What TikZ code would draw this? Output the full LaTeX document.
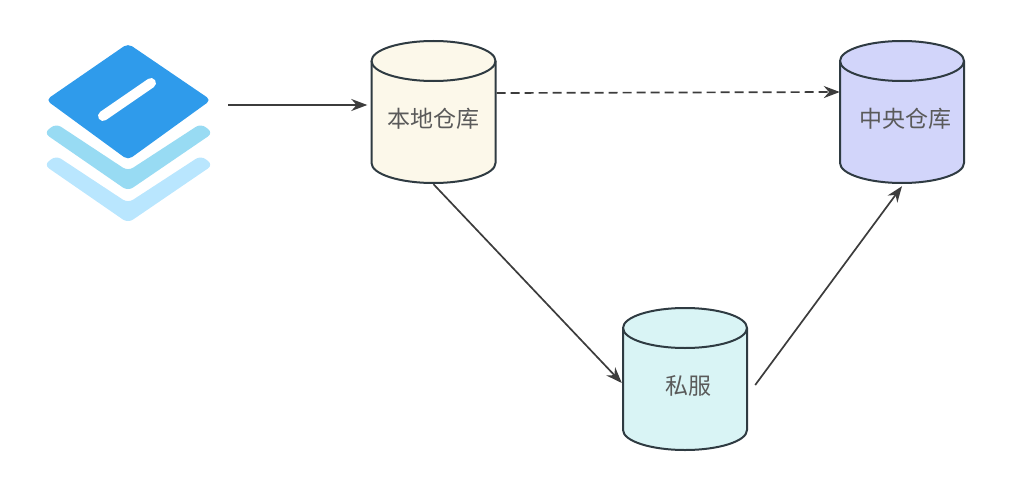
\documentclass[tikz,border=0pt]{standalone}
\usepackage{fontspec}
\setmainfont{Noto Sans CJK SC}
\usetikzlibrary{arrows.meta,calc}
\definecolor{cylline}{HTML}{2F3B42}
\definecolor{edgeline}{HTML}{3C3C3C}
\definecolor{txtgray}{HTML}{5A5A5A}
\definecolor{iconA}{HTML}{2F9BEB}
\definecolor{iconB}{HTML}{98DBF3}
\definecolor{iconC}{HTML}{B9E6FE}
\definecolor{fillA}{HTML}{FCF8EA}
\definecolor{fillB}{HTML}{D2D5FA}
\definecolor{fillC}{HTML}{D9F4F5}
\tikzset{
  cyl/.style={draw=cylline,line width=2pt},
  cyllabel/.style={minimum width=124pt,minimum height=142pt,inner sep=0pt,text=txtgray,font=\fontsize{23}{25}\selectfont},
  edge/.style={draw=edgeline,line width=1.7pt,-{Stealth[length=16pt,width=12pt]}},
  dashedge/.style={edge,dash pattern=on 9pt off 5pt},
  icon/.style={rounded corners=5pt,draw=none},
}
\newcommand{\dbcyl}[5]{% name, cx, cy, fill, text
  \path[cyl,fill=#4] (#2-62,#3-51) arc[start angle=180,end angle=360,x radius=62,y radius=20]
     -- (#2+62,#3+51) arc[start angle=0,end angle=180,x radius=62,y radius=20] -- cycle;
  \path[cyl] (#2-62,#3-51) arc[start angle=180,end angle=0,x radius=62,y radius=20];
  \node[cyllabel] (#1) at (#2,#3) {\raisebox{-15pt}[0pt][0pt]{#5}};
}
\begin{document}
\begin{tikzpicture}[x=1pt,y=-1pt]
\useasboundingbox (0,0) rectangle (1020,503);
% icon
\fill[iconC,rounded corners=6pt] (56,155.5) -- (128,203) -- (201,155.5) -- (213,165) -- (128,223) -- (44,165) -- cycle;
\fill[iconB,rounded corners=6pt] (56,123.5) -- (128,171) -- (201,123.5) -- (213,133) -- (128,191) -- (44,133) -- cycle;
\fill[iconA,icon] (128,43.5) -- (211,100) -- (128,160) -- (46,100) -- cycle;
\draw[white,line width=10pt,line cap=round] (103,116) -- (151,83);
\coordinate (iconout) at (228,105);
% cylinders
\dbcyl{local}{433.5}{112}{fillA}{本地仓库}
\dbcyl{central}{902}{112}{fillB}{\hspace{6pt}中央仓库}
\dbcyl{private}{685}{379}{fillC}{\hspace{6pt}私服}
% connectors
\draw[edge] (iconout) -- ([xshift=-4pt,yshift=7pt]local.west);
\draw[dashedge] ([xshift=1pt,yshift=19pt]local.east) -- ([yshift=20pt]central.west);
\draw[edge] ([yshift=-1pt]local.south) -- ([xshift=-1pt,yshift=-4pt]private.west);
\draw[edge] ([xshift=8pt,yshift=-6pt]private.east) -- ([yshift=-3pt]central.south);
\end{tikzpicture}
\end{document}
